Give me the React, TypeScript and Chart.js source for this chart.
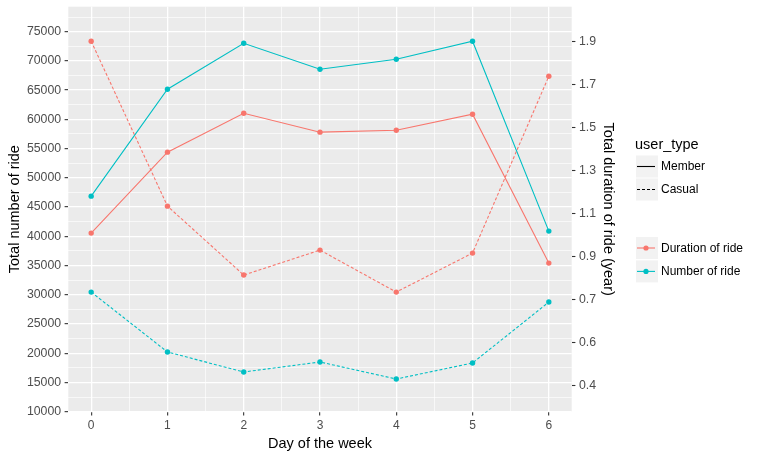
import React, { useEffect, useRef } from "react";
import { Chart, registerables } from "chart.js";

Chart.register(...registerables);

// ---- data ----
const days = [0, 1, 2, 3, 4, 5, 6];
const dayTickLabels = ["0", "1", "2", "3", "4", "5", "6"];

// Total number of ride (left axis)
const memberRides = [46870, 65160, 73020, 68570, 70280, 73360, 40890];
const casualRides = [30460, 20210, 16790, 18500, 15590, 18330, 28750];

// Total duration of ride, expressed in the primary (left) axis units
const memberDuration = [40550, 54390, 61050, 57810, 58150, 60880, 35420];
const casualDuration = [73360, 45160, 33370, 37640, 30460, 37130, 67380];

// Left axis ticks (labelled) and grid lines (major + minor)
const leftTickValues = [10000, 15000, 20000, 25000, 30000, 35000, 40000, 45000, 50000, 55000, 60000, 65000, 70000, 75000];
const leftGridValues = [
  10000, 12500, 15000, 17500, 20000, 22500, 25000, 27500, 30000, 32500, 35000, 37500, 40000,
  42500, 45000, 47500, 50000, 52500, 55000, 57500, 60000, 62500, 65000, 67500, 70000, 72500,
  75000, 77500,
];
// Secondary axis: label positions (primary units) and labels
const rightTickValues = [14450, 21800, 29160, 36520, 43870, 51230, 58580, 65940, 73290];
const rightTickLabels = ["0.4", "0.6", "0.7", "0.9", "1.1", "1.3", "1.5", "1.7", "1.9"];
const xGridValues = [0, 0.5, 1, 1.5, 2, 2.5, 3, 3.5, 4, 4.5, 5, 5.5, 6];

const lineKeys = [
  { label: "Member", dash: [] as number[] },
  { label: "Casual", dash: [3, 2] },
];
const colorKeys = [
  { label: "Duration of ride", color: "#F8766D" },
  { label: "Number of ride", color: "#00BFC4" },
];

const FONT = '"Liberation Sans", Arial, Helvetica, sans-serif';
const RED = "#F8766D";
const CYAN = "#00BFC4";
const DASH = [3, 2];

const panelPlugin = {
  id: "ggPanel",
  beforeDraw(chart: any) {
    const { ctx, chartArea: a } = chart;
    ctx.save();
    ctx.fillStyle = "#EBEBEB";
    ctx.fillRect(a.left, a.top, a.right - a.left, a.bottom - a.top);
    ctx.restore();
  },
};

const legendPlugin = {
  id: "ggLegend",
  afterDraw(chart: any) {
    const ctx = chart.ctx;
    const x0 = 636;
    const key = 22;
    ctx.save();
    ctx.textAlign = "left";
    ctx.textBaseline = "middle";
    ctx.fillStyle = "#000";
    ctx.font = `14.5px ${FONT}`;
    ctx.fillText("user_type", 635, 145);

    ctx.font = `12px ${FONT}`;
    lineKeys.forEach((k, i) => {
      const top = 155.5 + i * 23;
      ctx.fillStyle = "#F2F2F2";
      ctx.fillRect(x0, top, key, key);
      ctx.strokeStyle = "#000";
      ctx.lineWidth = 1.1;
      ctx.setLineDash(k.dash);
      ctx.beginPath();
      ctx.moveTo(x0 + 1, top + key / 2);
      ctx.lineTo(x0 + key - 3, top + key / 2);
      ctx.stroke();
      ctx.setLineDash([]);
      ctx.fillStyle = "#000";
      ctx.fillText(k.label, 661, top + key / 2 + 0.5);
    });

    colorKeys.forEach((k, i) => {
      const top = 237 + i * 23.4;
      ctx.fillStyle = "#F2F2F2";
      ctx.fillRect(x0, top, key, key);
      ctx.strokeStyle = k.color;
      ctx.lineWidth = 1.1;
      ctx.beginPath();
      ctx.moveTo(x0 + 1, top + key / 2);
      ctx.lineTo(x0 + key - 3, top + key / 2);
      ctx.stroke();
      ctx.fillStyle = k.color;
      ctx.beginPath();
      ctx.arc(x0 + key / 2 - 1, top + key / 2, 2.6, 0, Math.PI * 2);
      ctx.fill();
      ctx.fillStyle = "#000";
      ctx.fillText(k.label, 661, top + key / 2 + 0.5);
    });
    ctx.restore();
  },
};

function series(label: string, values: number[], color: string, dashed: boolean) {
  return {
    label,
    data: days.map((d, i) => ({ x: d, y: values[i] })),
    borderColor: color,
    backgroundColor: color,
    borderWidth: 1.1,
    borderDash: dashed ? DASH : [],
    pointRadius: 2.7,
    pointBorderWidth: 0,
    pointBackgroundColor: color,
    tension: 0,
    fill: false,
    yAxisID: "y",
  };
}

const noPad = (s: any) => {
  s.paddingTop = 0;
  s.paddingBottom = 0;
  s.paddingLeft = 0;
  s.paddingRight = 0;
};

export default function App() {
  const ref = useRef<HTMLCanvasElement | null>(null);

  useEffect(() => {
    document.body.style.margin = "0";
    const canvas = ref.current;
    if (!canvas) return;

    const majorY = (v: number) => leftTickValues.includes(v);
    const majorX = (v: number) => Number.isInteger(v);

    const chart = new Chart(canvas, {
      type: "line",
      data: {
        datasets: [
          series("Member Number", memberRides, CYAN, false),
          series("Member Duration", memberDuration, RED, false),
          series("Casual Duration", casualDuration, RED, true),
          series("Casual Number", casualRides, CYAN, true),
        ] as any,
      },
      plugins: [panelPlugin, legendPlugin],
      options: {
        animation: false,
        responsive: false,
        devicePixelRatio: 1,
        layout: { padding: { top: 6.7, right: 140.3, bottom: 0, left: 0 } },
        plugins: { legend: { display: false }, tooltip: { enabled: false } },
        scales: {
          x: {
            type: "linear",
            min: -0.3,
            max: 6.3,
            afterBuildTicks: (s: any) => {
              s.ticks = xGridValues.map((v) => ({ value: v }));
            },
            afterFit: (s: any) => {
              s.height = 47.3;
              noPad(s);
            },
            border: { display: false },
            grid: {
              color: "#FFFFFF",
              lineWidth: (c: any) => (majorX(c.tick.value) ? 1.3 : 0.65),
              drawTicks: true,
              tickLength: 3.7,
              tickColor: (c: any) => (majorX(c.tick.value) ? "#333333" : "rgba(0,0,0,0)"),
              tickWidth: 1.1,
            },
            ticks: {
              autoSkip: false,
              maxRotation: 0,
              padding: 3,
              color: "#4D4D4D",
              font: { family: FONT, size: 12 },
              callback: (v: any) => {
                const idx = days.indexOf(Number(v));
                return idx >= 0 ? dayTickLabels[idx] : "";
              },
            },
            title: {
              display: true,
              text: "Day of the week",
              color: "#000",
              font: { family: FONT, size: 14.5 },
              padding: { top: 0, bottom: 6.5 },
            },
          },
          y: {
            type: "linear",
            position: "left",
            min: 10000,
            max: 79270,
            afterBuildTicks: (s: any) => {
              s.ticks = leftGridValues.map((v) => ({ value: v }));
            },
            afterFit: (s: any) => {
              s.width = 68.3;
              noPad(s);
            },
            border: { display: false },
            grid: {
              color: "#FFFFFF",
              lineWidth: (c: any) => (majorY(c.tick.value) ? 1.3 : 0.65),
              drawTicks: true,
              tickLength: 3.7,
              tickColor: (c: any) => (majorY(c.tick.value) ? "#333333" : "rgba(0,0,0,0)"),
              tickWidth: 1.1,
            },
            ticks: {
              autoSkip: false,
              padding: 3.5,
              color: "#4D4D4D",
              font: { family: FONT, size: 12.3 },
              callback: (v: any) => (majorY(Number(v)) ? String(v) : ""),
            },
            title: {
              display: true,
              text: "Total number of ride",
              color: "#000",
              font: { family: FONT, size: 14.5 },
              padding: { top: 5.8, bottom: 0 },
            },
          },
          y2: {
            type: "linear",
            position: "right",
            min: 10000,
            max: 79270,
            afterBuildTicks: (s: any) => {
              s.ticks = rightTickValues.map((v) => ({ value: v }));
            },
            afterFit: (s: any) => {
              s.width = 48;
              noPad(s);
            },
            border: { display: false },
            grid: {
              drawOnChartArea: false,
              drawTicks: true,
              tickLength: 3.7,
              tickColor: "#333333",
              tickWidth: 1.1,
            },
            ticks: {
              autoSkip: false,
              padding: 3.5,
              color: "#4D4D4D",
              font: { family: FONT, size: 12.3 },
              callback: (_v: any, i: number) => rightTickLabels[i],
            },
            title: {
              display: true,
              text: "Total duration of ride (year)",
              color: "#000",
              font: { family: FONT, size: 14.5 },
              padding: { top: 3.5, bottom: 0 },
            },
          },
        },
      } as any,
    });

    return () => chart.destroy();
  }, []);

  return (
    <div style={{ width: 760, height: 459, position: "relative" }}>
      <canvas ref={ref} width={760} height={459} style={{ display: "block" }} />
    </div>
  );
}
